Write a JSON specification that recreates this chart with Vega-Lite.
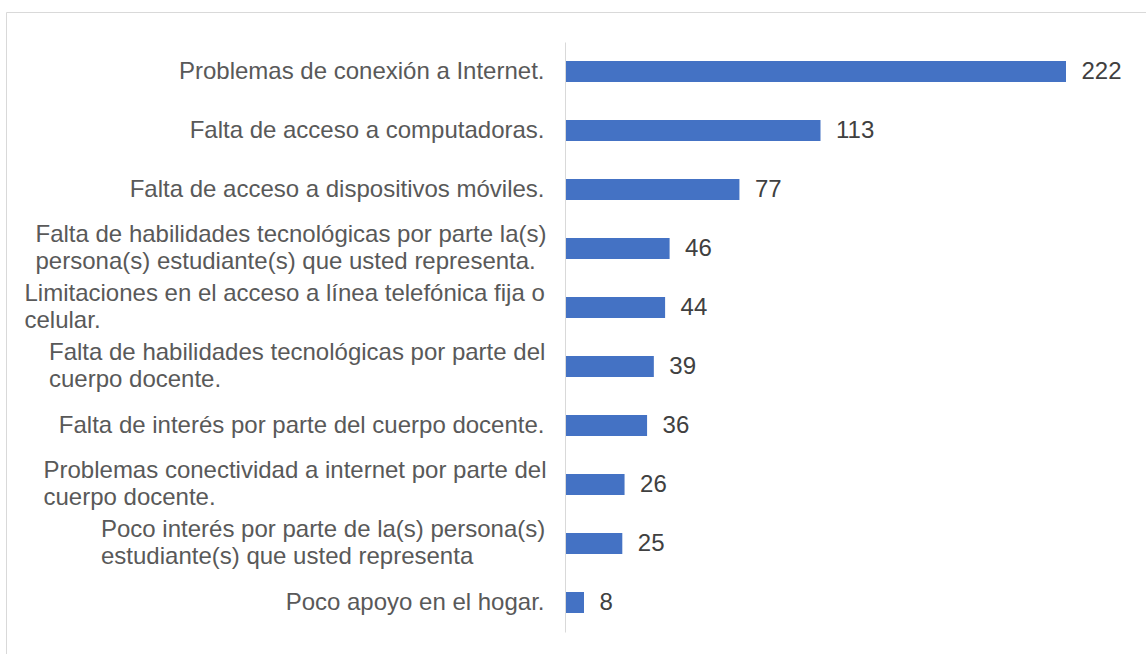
{
  "$schema": "https://vega.github.io/schema/vega-lite/v6.json",
  "width": 1146,
  "height": 648,
  "autosize": {"type": "none"},
  "padding": {"left": 6, "top": 12, "right": -6, "bottom": -6},
  "background": "#ffffff",
  "config": {"view": {"stroke": "#d9d9d9", "strokeWidth": 1}, "font": "Liberation Sans"},
  "data": {
    "values": [
      {"cat": "Problemas de conexión a Internet.", "n": 222},
      {"cat": "Falta de acceso a computadoras.", "n": 113},
      {"cat": "Falta de acceso a dispositivos móviles.", "n": 77},
      {"cat": "Falta de habilidades tecnológicas por parte la(s)|persona(s) estudiante(s) que usted representa.", "n": 46},
      {"cat": "Limitaciones en el acceso a línea telefónica fija o|celular.", "n": 44},
      {"cat": "Falta de habilidades tecnológicas por parte del|cuerpo docente.", "n": 39},
      {"cat": "Falta de interés por parte del cuerpo docente.", "n": 36},
      {"cat": "Problemas conectividad a internet por parte del|cuerpo docente.", "n": 26},
      {"cat": "Poco interés por parte de la(s) persona(s)|estudiante(s) que usted representa", "n": 25},
      {"cat": "Poco apoyo en el hogar.", "n": 8}
    ]
  },
  "layer": [
    {
      "mark": {"type": "bar", "color": "#4472C4"},
      "encoding": {
        "y": {
          "field": "cat", "type": "nominal", "sort": null,
          "scale": {"range": [30, 620], "paddingInner": 0.644, "paddingOuter": 0.322},
          "axis": {
            "title": null, "orient": "left", "offset": -559,
            "domainColor": "#d9d9d9", "domainWidth": 1, "ticks": false,
            "labelPadding": 21, "labelFont": "Liberation Sans", "labelFontSize": 24,
            "labelColor": "#595959", "labelLimit": 700, "labelLineHeight": 27,
            "labelBaseline": "middle", "labelAlign": "right", "labelOverlap": false,
            "labelExpr": "indexof(datum.value, '|') >= 0 ? '' : datum.value"
          }
        },
        "x": {"field": "n", "type": "quantitative", "scale": {"range": [560, 1060], "nice": false, "zero": true}, "axis": null}
      }
    },
    {
      "mark": {"type": "text", "align": "left", "baseline": "middle", "dx": 15.5, "font": "Liberation Sans", "fontSize": 24, "color": "#404040"},
      "encoding": {
        "y": {"field": "cat", "type": "nominal", "sort": null, "axis": null},
        "x": {"field": "n", "type": "quantitative", "axis": null},
        "text": {"field": "n", "type": "quantitative"}
      }
    },
    {
      "mark": {"type": "bar", "opacity": 0},
      "encoding": {
        "y": {"field": "cat", "type": "nominal", "sort": null,
          "axis": {"title": null, "orient": "left", "offset": -559, "domain": false, "ticks": false,
            "labelPadding": 530, "labelOffset": -13.5, "labelFont": "Liberation Sans", "labelFontSize": 24, "labelColor": "#595959",
            "labelLimit": 700, "labelLineHeight": 27, "labelBaseline": "middle", "labelAlign": "left", "labelOverlap": false,
            "labelExpr": "indexof(datum.value, 'Falta de habilidades tecnológicas por parte la(s)') === 0 ? split(datum.value, '|') : ''"}},
        "x": {"field": "n", "type": "quantitative", "axis": null}
      }
    },
    {
      "mark": {"type": "bar", "opacity": 0},
      "encoding": {
        "y": {"field": "cat", "type": "nominal", "sort": null,
          "axis": {"title": null, "orient": "left", "offset": -559, "domain": false, "ticks": false,
            "labelPadding": 541, "labelOffset": -13.5, "labelFont": "Liberation Sans", "labelFontSize": 24, "labelColor": "#595959",
            "labelLimit": 700, "labelLineHeight": 27, "labelBaseline": "middle", "labelAlign": "left", "labelOverlap": false,
            "labelExpr": "indexof(datum.value, 'Limitaciones') === 0 ? split(datum.value, '|') : ''"}},
        "x": {"field": "n", "type": "quantitative", "axis": null}
      }
    },
    {
      "mark": {"type": "bar", "opacity": 0},
      "encoding": {
        "y": {"field": "cat", "type": "nominal", "sort": null,
          "axis": {"title": null, "orient": "left", "offset": -559, "domain": false, "ticks": false,
            "labelPadding": 516.5, "labelOffset": -13.5, "labelFont": "Liberation Sans", "labelFontSize": 24, "labelColor": "#595959",
            "labelLimit": 700, "labelLineHeight": 27, "labelBaseline": "middle", "labelAlign": "left", "labelOverlap": false,
            "labelExpr": "indexof(datum.value, 'Falta de habilidades tecnológicas por parte del') === 0 ? split(datum.value, '|') : ''"}},
        "x": {"field": "n", "type": "quantitative", "axis": null}
      }
    },
    {
      "mark": {"type": "bar", "opacity": 0},
      "encoding": {
        "y": {"field": "cat", "type": "nominal", "sort": null,
          "axis": {"title": null, "orient": "left", "offset": -559, "domain": false, "ticks": false,
            "labelPadding": 522, "labelOffset": -13.5, "labelFont": "Liberation Sans", "labelFontSize": 24, "labelColor": "#595959",
            "labelLimit": 700, "labelLineHeight": 27, "labelBaseline": "middle", "labelAlign": "left", "labelOverlap": false,
            "labelExpr": "indexof(datum.value, 'Problemas conectividad') === 0 ? split(datum.value, '|') : ''"}},
        "x": {"field": "n", "type": "quantitative", "axis": null}
      }
    },
    {
      "mark": {"type": "bar", "opacity": 0},
      "encoding": {
        "y": {"field": "cat", "type": "nominal", "sort": null,
          "axis": {"title": null, "orient": "left", "offset": -559, "domain": false, "ticks": false,
            "labelPadding": 464.5, "labelOffset": -13.5, "labelFont": "Liberation Sans", "labelFontSize": 24, "labelColor": "#595959",
            "labelLimit": 700, "labelLineHeight": 27, "labelBaseline": "middle", "labelAlign": "left", "labelOverlap": false,
            "labelExpr": "indexof(datum.value, 'Poco interés') === 0 ? split(datum.value, '|') : ''"}},
        "x": {"field": "n", "type": "quantitative", "axis": null}
      }
    }
  ],
  "resolve": {"axis": {"y": "independent"}}
}
